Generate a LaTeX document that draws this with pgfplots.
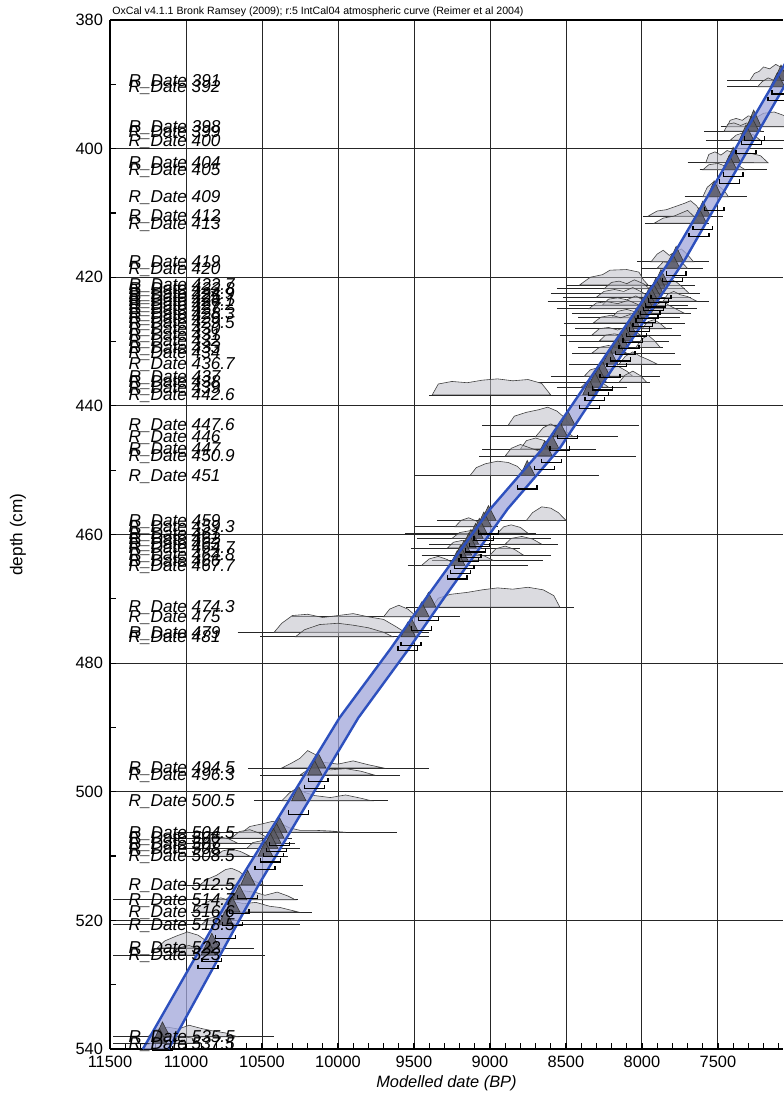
\documentclass[border=0pt]{standalone}
\usepackage{pgfplots}
\pgfplotsset{compat=1.18}
\usepackage{fontspec}
\setmainfont{Liberation Sans}
\definecolor{humpc}{RGB}{190,190,198}
\definecolor{postc}{RGB}{90,90,100}
\definecolor{bandf}{RGB}{160,166,218}
\definecolor{bandl}{RGB}{45,80,190}
\pgfplotsset{
 dline/.style={black!85, line width=0.4pt},
 hump/.style={fill=humpc, fill opacity=0.55, draw=black!75, line width=0.3pt},
 post/.style={fill=postc, fill opacity=0.85, draw=black!80, line width=0.3pt},
 brk/.style={black, line width=0.7pt},
}
\tikzset{lbl/.style={anchor=base west, inner sep=0pt, yshift=-2.9pt, font=\fontsize{8.6}{10}\selectfont\itshape}}
\newcommand{\dl}[3]{\addplot[dline] coordinates {(#1,#3) (#2,#3)};}
\newcommand{\hp}[1]{\addplot[hump] coordinates {#1} -- cycle;}
\newcommand{\po}[5]{\addplot[post] coordinates {(#1,#4) (#2,#5) (#3,#4)} -- cycle;}
\newcommand{\br}[4]{\addplot[brk] coordinates {(#1,#3) (#1,#4) (#2,#4) (#2,#3)};}
\newcommand{\lbl}[2]{\node[lbl] at (axis cs:11380,#1) {R\_Date #2};}
\begin{document}
\begin{tikzpicture}
\begin{axis}[
  at={(0,0)}, anchor=south west,
  scale only axis, width=336.5pt, height=514.5pt,
  x dir=reverse, y dir=reverse,
  xmin=7072, xmax=11500, ymin=380, ymax=540,
  xtick={7500,8000,8500,9000,9500,10000,10500,11000,11500},
  ytick={380,400,420,440,460,480,500,520,540},
  minor xtick={7100,7200,...,11400},
  minor ytick={390,410,430,450,470,490,510,530},
  scaled x ticks=false, scaled y ticks=false,
  axis x line*=box, axis y line*=left,
  xtick pos=left,
  x axis line style={-}, y axis line style={-},
  axis line style={black, line width=1.1pt},
  tick align=inside,
  major tick length=3pt, minor tick length=3pt,
  every tick/.style={black, line width=0.6pt},
  grid=major,
  major grid style={black!85, line width=0.45pt},
  clip=false,
  no markers,
  xticklabel style={font=\fontsize{8.2}{9}\selectfont},
  yticklabel style={font=\fontsize{8.2}{9}\selectfont},
  /pgf/number format/.cd, 1000 sep={}, assume math mode=true,
  /pgfplots/.cd,
  xlabel={Modelled date (BP)}, ylabel={depth (cm)},
  every axis x label/.style={at={(axis description cs:0.5,-0.033)}, anchor=center, font=\fontsize{8.2}{9}\selectfont\itshape},
  every axis y label/.style={at={(axis description cs:-0.1367,0.5)}, anchor=center, rotate=90, font=\fontsize{8.6}{9}\selectfont},
]
% ---- likelihood lines and humps
\dl{7440}{6900}{389.4}
\hp{(7290,389.4)(7260,388.3)(7230,388.0)(7200,387.3)(7160,387.6)(7120,386.9)(7080,387.4)(7040,386.8)(6990,387.3)(6950,388.2)(6920,389.4)}
\dl{7440}{6900}{390.4}
\hp{(7240,390.4)(7210,389.6)(7170,389.0)(7130,389.4)(7090,388.6)(7050,388.9)(7000,389.5)(6960,390.4)}
\dl{7480}{6950}{396.6}
\hp{(7440,396.6)(7420,395.6)(7380,395.3)(7340,395.6)(7300,394.9)(7250,395.2)(7200,394.5)(7130,394.3)(7060,394.9)(7000,395.6)(6960,396.6)}
\dl{7590}{7200}{397.3}
\hp{(7460,397.3)(7435,396.2)(7395,396.0)(7350,396.4)(7310,396.0)(7260,396.5)(7215,397.3)}
\dl{7580}{6980}{398.7}
\hp{(7420,398.7)(7380,397.9)(7330,397.5)(7270,397.8)(7220,398.7)}
\dl{7700}{7260}{402.2}
\hp{(7580,402.2)(7560,400.9)(7520,400.5)(7480,401.0)(7440,400.3)(7400,400.6)(7350,401.0)(7290,400.7)(7220,401.1)(7170,402.2)}
\dl{7620}{7180}{403.3}
\hp{(7600,403.3)(7560,402.5)(7500,402.3)(7440,402.8)(7380,402.4)(7320,403.3)}
\dl{7720}{7310}{407.5}
\hp{(7600,407.5)(7570,406.0)(7530,405.2)(7495,405.8)(7460,406.5)(7430,407.5)}
\dl{7990}{7470}{410.5}
\hp{(7960,410.5)(7900,409.7)(7840,409.5)(7780,409.0)(7720,408.5)(7680,408.1)(7640,408.9)(7600,410.5)}
\dl{7980}{7560}{411.6}
\hp{(7920,411.6)(7860,410.8)(7790,410.5)(7740,410.0)(7700,409.6)(7660,410.5)(7620,411.6)}
\dl{8030}{7560}{417.6}
\hp{(7940,417.6)(7900,416.4)(7860,415.8)(7820,416.6)(7780,416.0)(7740,415.6)(7700,416.5)(7660,417.6)}
\dl{8000}{7600}{418.6}
\hp{(7900,418.6)(7860,417.6)(7800,417.8)(7750,417.4)(7700,418.6)}
\dl{8500}{7650}{421.2}
\hp{(8410,421.2)(8340,420.0)(8260,419.6)(8210,418.9)(8100,418.8)(8020,419.2)(7990,420.4)(7960,421.2)}
\dl{8560}{7720}{421.8}
\hp{(8250,421.8)(8200,420.8)(8150,420.6)(8100,421.0)(8050,420.4)(7990,421.0)(7950,421.8)}
\dl{8600}{7620}{422.5}
\hp{(7880,422.5)(7850,421.0)(7810,420.3)(7770,420.8)(7730,421.6)(7690,422.5)}
\dl{8520}{7680}{423.1}
\hp{(8300,423.1)(8250,422.2)(8180,421.9)(8120,422.2)(8060,421.6)(8000,422.3)(7950,423.1)}
\dl{8620}{7560}{423.7}
\hp{(7860,423.7)(7830,422.6)(7790,422.2)(7750,422.7)(7700,423.0)(7640,423.7)}
\dl{8480}{7700}{424.3}
\hp{(8260,424.3)(8220,423.4)(8160,423.2)(8100,423.5)(8040,422.9)(7990,423.6)(7960,424.3)}
\dl{8560}{7640}{424.9}
\hp{(8350,424.9)(8300,424.0)(8230,423.8)(8160,424.1)(8090,423.6)(8030,424.2)(7990,424.9)}
\dl{8460}{7680}{425.6}
\hp{(7940,425.6)(7900,424.2)(7860,423.7)(7820,424.4)(7770,425.0)(7720,425.6)}
\dl{8420}{7750}{426.3}
\hp{(8200,426.3)(8160,425.3)(8100,425.0)(8040,425.4)(7980,426.3)}
\dl{8510}{7720}{427.1}
\hp{(8320,427.1)(8270,426.2)(8200,425.9)(8140,426.3)(8080,425.8)(8020,426.4)(7980,427.1)}
\dl{8440}{7800}{428.0}
\hp{(8000,428.0)(7960,426.9)(7920,426.6)(7880,427.2)(7840,428.0)}
\dl{8540}{7740}{429.0}
\hp{(8330,429.0)(8280,428.0)(8220,427.8)(8160,428.2)(8100,427.7)(8050,428.3)(8010,429.0)}
\dl{8480}{7820}{429.9}
\hp{(8280,429.9)(8240,429.0)(8180,428.8)(8120,429.1)(8060,429.9)}
\dl{8420}{7860}{430.9}
\hp{(8040,430.9)(8000,429.6)(7960,429.0)(7920,429.8)(7880,430.9)}
\dl{8460}{7780}{431.8}
\hp{(8330,431.8)(8280,430.9)(8220,430.6)(8160,431.0)(8100,431.8)}
\dl{8480}{7740}{433.5}
\hp{(8150,433.5)(8110,432.3)(8060,431.6)(8010,432.3)(7960,432.8)(7900,433.5)}
\dl{8600}{7880}{435.4}
\hp{(8380,435.4)(8340,434.4)(8280,434.0)(8220,434.4)(8160,433.8)(8100,434.6)(8060,435.4)}
\dl{8680}{7950}{436.3}
\hp{(8150,436.3)(8110,435.2)(8060,434.6)(8010,435.3)(7970,436.3)}
\dl{8560}{8100}{437.1}
\hp{(8400,437.1)(8360,436.2)(8310,435.9)(8260,436.4)(8220,437.1)}
\dl{9400}{8000}{438.3}
\hp{(9380,438.3)(9340,436.6)(9250,436.2)(9150,436.4)(9050,436.0)(8950,435.8)(8850,436.1)(8750,435.9)(8660,436.5)(8600,438.3)}
\dl{9050}{8020}{443.0}
\hp{(8880,443.0)(8840,441.6)(8760,441.0)(8680,440.6)(8620,440.2)(8560,440.8)(8510,441.8)(8470,443.0)}
\dl{9000}{8160}{444.8}
\hp{(8700,444.8)(8650,443.4)(8600,442.8)(8550,443.5)(8500,444.0)(8450,444.8)}
\dl{9050}{8300}{446.7}
\hp{(8800,446.7)(8760,445.4)(8700,445.0)(8640,445.4)(8590,446.7)}
\dl{9070}{8040}{447.8}
\hp{(8900,447.8)(8860,446.6)(8800,446.0)(8740,446.5)(8680,447.0)(8620,447.8)}
\dl{9490}{8280}{450.8}
\hp{(9130,450.8)(9090,449.6)(9030,449.0)(8950,448.6)(8880,448.8)(8820,449.4)(8760,450.8)}
\dl{9350}{8500}{457.8}
\hp{(8760,457.8)(8720,456.6)(8660,455.7)(8600,455.9)(8550,456.6)(8500,457.8)}
\dl{9500}{8950}{458.8}
\hp{(9230,458.8)(9190,457.8)(9140,457.4)(9090,457.9)(9040,458.8)}
\dl{9560}{8700}{459.8}
\hp{(8950,459.8)(8910,458.8)(8860,458.5)(8800,458.9)(8750,459.8)}
\dl{9480}{8600}{460.6}
\hp{(9250,460.6)(9200,459.7)(9130,459.4)(9060,459.8)(9000,460.6)}
\dl{9400}{8550}{461.5}
\hp{(8900,461.5)(8860,460.6)(8790,460.3)(8720,460.7)(8660,461.5)}
\dl{9520}{8800}{462.1}
\hp{(9280,462.1)(9240,461.2)(9180,460.9)(9120,461.3)(9070,462.1)}
\dl{9450}{8600}{463.2}
\hp{(9000,463.2)(8960,462.2)(8900,461.8)(8840,462.3)(8780,463.2)}
\dl{9380}{8650}{464.0}
\hp{(9200,464.0)(9160,463.2)(9100,462.9)(9040,463.3)(8980,464.0)}
\dl{9540}{8750}{464.8}
\hp{(9450,464.8)(9400,463.8)(9340,463.4)(9280,463.9)(9220,464.8)}
\dl{9550}{8450}{471.3}
\hp{(9380,471.3)(9340,469.9)(9260,469.3)(9150,469.0)(9050,468.6)(8950,468.3)(8850,468.5)(8750,468.2)(8650,468.6)(8580,469.5)(8540,471.3)}
\dl{10300}{9200}{472.8}
\hp{(9700,472.8)(9660,471.6)(9600,471.0)(9540,471.6)(9480,472.8)}
\dl{10660}{9400}{475.2}
\hp{(10420,475.2)(10370,473.8)(10300,472.6)(10200,472.4)(10100,472.9)(10000,472.6)(9900,472.3)(9800,472.8)(9700,473.2)(9620,474.3)(9560,475.2)}
\dl{10510}{9400}{475.9}
\hp{(10280,475.9)(10220,474.8)(10120,474.0)(10000,473.8)(9900,474.1)(9800,474.5)(9700,475.2)(9640,475.9)}
\dl{10590}{9400}{496.3}
\hp{(10370,496.3)(10310,495.6)(10250,494.8)(10200,493.6)(10150,494.2)(10100,495.4)(10000,495.7)(9900,495.2)(9800,495.8)(9700,496.3)}
\dl{10510}{9590}{497.4}
\hp{(10250,497.4)(10200,496.6)(10120,496.0)(10050,496.6)(9950,496.4)(9850,496.8)(9760,497.4)}
\dl{10550}{9670}{501.4}
\hp{(10370,501.4)(10320,500.2)(10270,499.4)(10220,500.1)(10150,500.6)(10050,500.9)(9950,500.5)(9850,501.0)(9780,501.4)}
\dl{11060}{9610}{506.3}
\hp{(10630,506.3)(10580,505.4)(10500,505.0)(10430,504.6)(10380,504.9)(10320,505.6)(10250,506.0)(10150,506.0)(10050,506.1)(9950,506.3)}
\dl{11100}{10300}{507.2}
\hp{(10700,507.2)(10650,506.2)(10580,505.9)(10520,506.4)(10460,507.2)}
\dl{11000}{10280}{508.0}
\hp{(10900,508.0)(10850,507.2)(10780,507.0)(10720,507.3)(10660,508.0)}
\dl{11050}{10250}{508.8}
\hp{(10600,508.8)(10560,507.9)(10500,507.6)(10440,508.0)(10390,508.8)}
\dl{11000}{10330}{510.0}
\hp{(10800,510.0)(10760,509.2)(10700,508.9)(10640,509.3)(10580,510.0)}
\dl{11020}{10230}{514.5}
\hp{(10910,514.5)(10860,513.6)(10800,513.0)(10740,512.1)(10700,511.9)(10650,512.4)(10600,513.3)(10540,514.0)(10490,514.5)}
\dl{11480}{10260}{516.8}
\hp{(10740,516.8)(10690,515.8)(10620,515.4)(10550,515.6)(10480,516.1)(10400,515.6)(10330,516.2)(10280,516.8)}
\dl{10970}{10170}{518.7}
\hp{(10950,518.7)(10900,517.6)(10830,516.8)(10770,516.5)(10700,517.0)(10620,517.4)(10540,517.2)(10450,517.8)(10380,518.0)(10260,518.7)}
\dl{11480}{10250}{520.7}
\hp{(10900,520.7)(10850,519.7)(10790,519.4)(10730,519.8)(10670,520.7)}
\dl{11190}{10550}{524.3}
\hp{(11190,524.3)(11140,523.2)(11060,522.4)(10990,521.8)(10920,522.3)(10860,523.3)(10820,524.3)}
\dl{11480}{10480}{525.4}
\hp{(11100,525.4)(11050,524.3)(10980,523.9)(10920,524.4)(10870,525.4)}
\dl{11480}{10420}{538.1}
\hp{(11250,538.1)(11200,537.0)(11120,536.6)(11050,536.9)(10980,536.3)(10900,536.8)(10820,537.2)(10740,537.5)(10660,538.1)}
\dl{11480}{10900}{539.1}
\hp{(11150,539.1)(11100,538.3)(11030,538.0)(10960,538.3)(10900,539.1)}
% ---- age-depth band
\addplot[fill=bandf, fill opacity=0.75, draw=none] coordinates {(7014,385)(7133,389.8)(7810,417.2)(8656,446.7)(8997,456)(9421,469.9)(9652,477.7)(9990,488.5)(10287,500)(10664,514.4)(11259,539)(11284,540)(11114,540)(11091,539)(10520,514.4)(10157,500)(9866,488.5)(9532,477.7)(9303,469.9)(8883,456)(8544,446.7)(7716,417.2)(7051,389.8)(6934,385)} -- cycle;
% ---- posteriors
\po{7130}{7085}{7040}{389.4}{387.0}
\po{7155}{7110}{7060}{390.4}{388.2}
\po{7310}{7265}{7215}{396.6}{394.0}
\po{7325}{7280}{7230}{397.3}{395.0}
\po{7360}{7315}{7265}{398.7}{396.3}
\po{7445}{7400}{7350}{402.2}{399.8}
\po{7470}{7425}{7375}{403.3}{401.0}
\po{7570}{7525}{7475}{407.5}{405.0}
\po{7645}{7600}{7550}{410.5}{408.2}
\po{7670}{7625}{7575}{411.6}{409.2}
\po{7820}{7775}{7725}{417.6}{415.2}
\po{7850}{7800}{7750}{418.6}{416.3}
\po{7920}{7875}{7825}{421.2}{418.8}
\po{7935}{7890}{7840}{421.8}{419.8}
\po{7955}{7910}{7860}{422.5}{420.2}
\po{7970}{7925}{7875}{423.1}{421.0}
\po{7990}{7945}{7895}{423.7}{421.4}
\po{8005}{7960}{7910}{424.3}{422.0}
\po{8020}{7975}{7925}{424.9}{422.6}
\po{8040}{7995}{7945}{425.6}{423.3}
\po{8060}{8010}{7960}{426.3}{424.0}
\po{8080}{8035}{7985}{427.1}{424.8}
\po{8105}{8060}{8010}{428.0}{425.7}
\po{8130}{8085}{8035}{429.0}{426.7}
\po{8160}{8110}{8060}{429.9}{427.6}
\po{8185}{8140}{8090}{430.9}{428.6}
\po{8210}{8165}{8115}{431.8}{429.5}
\po{8260}{8210}{8160}{433.5}{431.2}
\po{8310}{8260}{8210}{435.4}{433.1}
\po{8335}{8285}{8235}{436.3}{434.0}
\po{8355}{8310}{8260}{437.1}{434.8}
\po{8390}{8345}{8295}{438.3}{436.0}
\po{8535}{8490}{8440}{443.0}{440.7}
\po{8585}{8540}{8490}{444.8}{442.5}
\po{8640}{8595}{8545}{446.7}{444.4}
\po{8690}{8640}{8590}{447.8}{445.5}
\po{8800}{8755}{8705}{450.8}{448.5}
\po{9055}{9010}{8960}{457.8}{455.5}
\po{9085}{9040}{8990}{458.8}{456.5}
\po{9115}{9070}{9020}{459.8}{457.5}
\po{9140}{9095}{9045}{460.6}{458.3}
\po{9170}{9125}{9075}{461.5}{459.2}
\po{9185}{9140}{9090}{462.1}{459.8}
\po{9220}{9170}{9120}{463.2}{460.9}
\po{9240}{9195}{9145}{464.0}{461.7}
\po{9265}{9215}{9165}{464.8}{462.5}
\po{9450}{9405}{9355}{471.3}{469.0}
\po{9495}{9450}{9400}{472.8}{470.5}
\po{9565}{9520}{9470}{475.2}{472.9}
\po{9585}{9540}{9490}{475.9}{473.6}
\po{10175}{10130}{10080}{496.3}{494.0}
\po{10200}{10155}{10105}{497.4}{495.1}
\po{10305}{10260}{10210}{501.4}{499.1}
\po{10430}{10385}{10335}{506.3}{504.0}
\po{10455}{10405}{10355}{507.2}{504.9}
\po{10475}{10425}{10375}{508.0}{505.7}
\po{10495}{10445}{10395}{508.8}{506.5}
\po{10525}{10480}{10430}{510.0}{507.7}
\po{10640}{10595}{10545}{514.5}{512.2}
\po{10695}{10650}{10600}{516.8}{514.5}
\po{10740}{10695}{10645}{518.7}{516.4}
\po{10785}{10740}{10690}{520.7}{518.4}
\po{10875}{10830}{10780}{524.3}{522.0}
\po{10900}{10855}{10805}{525.4}{523.1}
\po{11200}{11155}{11105}{538.1}{535.8}
\po{11220}{11175}{11125}{539.1}{536.8}
% ---- band boundaries
\addplot[bandl, line width=1.2pt] coordinates {(7014,385)(7133,389.8)(7810,417.2)(8656,446.7)(8997,456)(9421,469.9)(9652,477.7)(9990,488.5)(10287,500)(10664,514.4)(11259,539)(11284,540)};
\addplot[bandl, line width=1.2pt] coordinates {(6934,385)(7051,389.8)(7716,417.2)(8544,446.7)(8883,456)(9303,469.9)(9532,477.7)(9866,488.5)(10157,500)(10520,514.4)(11091,539)(11114,540)};
% ---- 95% range brackets
\br{7145}{7015}{390.9}{391.5}
\br{7170}{7040}{391.9}{392.5}
\br{7325}{7195}{398.1}{398.7}
\br{7345}{7215}{398.8}{399.4}
\br{7380}{7250}{400.2}{400.8}
\br{7465}{7335}{403.7}{404.3}
\br{7490}{7360}{404.8}{405.4}
\br{7590}{7460}{409.0}{409.6}
\br{7665}{7535}{412.0}{412.6}
\br{7690}{7560}{413.1}{413.7}
\br{7840}{7710}{419.1}{419.7}
\br{7865}{7735}{420.1}{420.7}
\br{7940}{7810}{422.7}{423.3}
\br{7955}{7825}{423.3}{423.9}
\br{7975}{7845}{424.0}{424.6}
\br{7990}{7860}{424.6}{425.2}
\br{8010}{7880}{425.2}{425.8}
\br{8025}{7895}{425.8}{426.4}
\br{8040}{7910}{426.4}{427.0}
\br{8060}{7930}{427.1}{427.7}
\br{8080}{7950}{427.8}{428.4}
\br{8100}{7970}{428.6}{429.2}
\br{8125}{7995}{429.5}{430.1}
\br{8150}{8020}{430.5}{431.1}
\br{8175}{8045}{431.4}{432.0}
\br{8205}{8075}{432.4}{433.0}
\br{8230}{8100}{433.3}{433.9}
\br{8275}{8145}{435.0}{435.6}
\br{8325}{8195}{436.9}{437.5}
\br{8350}{8220}{437.8}{438.4}
\br{8375}{8245}{438.6}{439.2}
\br{8410}{8280}{439.8}{440.4}
\br{8555}{8425}{444.5}{445.1}
\br{8605}{8475}{446.3}{446.9}
\br{8660}{8530}{448.2}{448.8}
\br{8705}{8575}{449.3}{449.9}
\br{8820}{8690}{452.3}{452.9}
\br{9075}{8945}{459.3}{459.9}
\br{9105}{8975}{460.3}{460.9}
\br{9135}{9005}{461.3}{461.9}
\br{9160}{9030}{462.1}{462.7}
\br{9190}{9060}{463.0}{463.6}
\br{9205}{9075}{463.6}{464.2}
\br{9235}{9105}{464.7}{465.3}
\br{9260}{9130}{465.5}{466.1}
\br{9280}{9150}{466.3}{466.9}
\br{9470}{9340}{472.8}{473.4}
\br{9515}{9385}{474.3}{474.9}
\br{9585}{9455}{476.7}{477.3}
\br{9605}{9475}{477.4}{478.0}
\br{10195}{10065}{497.8}{498.4}
\br{10220}{10090}{498.9}{499.5}
\br{10325}{10195}{502.9}{503.5}
\br{10450}{10320}{507.8}{508.4}
\br{10470}{10340}{508.7}{509.3}
\br{10490}{10360}{509.5}{510.1}
\br{10510}{10380}{510.3}{510.9}
\br{10545}{10415}{511.5}{512.1}
\br{10660}{10530}{516.0}{516.6}
\br{10715}{10585}{518.3}{518.9}
\br{10760}{10630}{520.2}{520.8}
\br{10805}{10675}{522.2}{522.8}
\br{10895}{10765}{525.8}{526.4}
\br{10920}{10790}{526.9}{527.5}
\br{11220}{11090}{539.6}{540.2}
% ---- labels
\lbl{389.4}{391}
\lbl{390.4}{392}
\lbl{396.6}{398}
\lbl{397.3}{399}
\lbl{398.7}{400}
\lbl{402.2}{404}
\lbl{403.3}{405}
\lbl{407.5}{409}
\lbl{410.5}{412}
\lbl{411.6}{413}
\lbl{417.6}{419}
\lbl{418.6}{420}
\lbl{421.2}{422.7}
\lbl{421.8}{423.8}
\lbl{422.5}{424.9}
\lbl{423.1}{425}
\lbl{423.7}{426.1}
\lbl{424.3}{427.2}
\lbl{424.9}{427}
\lbl{425.6}{428.3}
\lbl{426.3}{429}
\lbl{427.1}{429.5}
\lbl{428.0}{430}
\lbl{429.0}{431}
\lbl{429.9}{432}
\lbl{430.9}{433}
\lbl{431.8}{434}
\lbl{433.5}{436.7}
\lbl{435.4}{437}
\lbl{436.3}{438}
\lbl{437.1}{439}
\lbl{438.3}{442.6}
\lbl{443.0}{447.6}
\lbl{444.8}{446}
\lbl{446.7}{447}
\lbl{447.8}{450.9}
\lbl{450.8}{451}
\lbl{457.8}{459}
\lbl{458.8}{459.3}
\lbl{459.8}{461}
\lbl{460.6}{462}
\lbl{461.5}{463}
\lbl{462.1}{464.7}
\lbl{463.2}{464.8}
\lbl{464.0}{466}
\lbl{464.8}{467.7}
\lbl{471.3}{474.3}
\lbl{472.8}{475}
\lbl{475.2}{479}
\lbl{475.9}{481}
\lbl{496.3}{494.5}
\lbl{497.4}{496.3}
\lbl{501.4}{500.5}
\lbl{506.3}{504.5}
\lbl{507.2}{506}
\lbl{508.0}{507}
\lbl{508.8}{508}
\lbl{510.0}{508.5}
\lbl{514.5}{512.5}
\lbl{516.8}{514.7}
\lbl{518.7}{516.6}
\lbl{520.7}{518.5}
\lbl{524.3}{522}
\lbl{525.4}{523}
\lbl{538.1}{535.5}
\lbl{539.1}{537.5}
\node[anchor=base west, inner sep=0pt, font=\fontsize{5.3}{6}\selectfont] at (axis cs:11487,379.22) {OxCal v4.1.1 Bronk Ramsey (2009); r:5 IntCal04 atmospheric curve (Reimer et al 2004)};
\end{axis}
\pgfresetboundingbox
\path[use as bounding box] (-55pt,-29.5pt) rectangle (336.5pt,524.5pt);
\end{tikzpicture}
\end{document}
